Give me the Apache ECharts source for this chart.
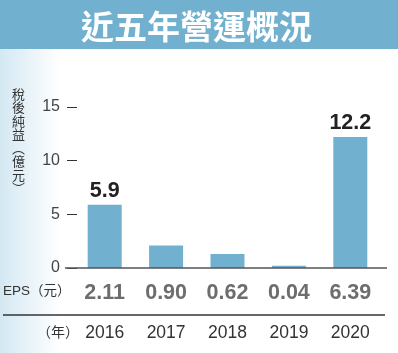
<!DOCTYPE html>
<html>
<head>
<meta charset="utf-8">
<script src="https://cdn.jsdelivr.net/npm/echarts@6/dist/echarts.min.js"></script>
<style>
  html, body { margin: 0; padding: 0; background: #fff; }
  #chart { width: 398px; height: 353px; }
</style>
</head>
<body>
<div id="chart"></div>
<script>
const years = ['2016', '2017', '2018', '2019', '2020']
const profit = [5.9, 2.1, 1.3, 0.2, 12.2]
const eps = ['2.11', '0.90', '0.62', '0.04', '6.39']
const labeledBars = [true, false, false, false, true]
const yTicks = [0, 5, 10, 15]

const FONT = '"Liberation Sans", Arial, "Noto Sans CJK TC", sans-serif'
const CJK = '"Noto Sans CJK TC", "Noto Sans CJK SC", sans-serif'
const BLUE = '#72b0cf'

const chart = echarts.init(document.getElementById('chart'))

const option = {
  animation: false,
  backgroundColor: '#fff',
  title: {
    text: '近五年營運概況',
    left: 76,
    top: 5,
    textStyle: { color: '#fff', fontSize: 33, fontWeight: 'bold', fontFamily: CJK }
  },
  graphic: [
    {
      type: 'rect', z: -10, left: 0, top: 49,
      shape: { width: 60, height: 304 },
      style: {
        fill: new echarts.graphic.LinearGradient(0, 0, 1, 0, [
          { offset: 0, color: '#d4e8f2' },
          { offset: 1, color: '#ffffff' }
        ])
      }
    },
    {
      type: 'rect', z: -5, left: 0, top: 0,
      shape: { width: 398, height: 49 },
      style: { fill: BLUE }
    },
    {
      type: 'line', z: 10,
      shape: { x1: 65, y1: 268, x2: 387, y2: 268 },
      style: { stroke: '#555', lineWidth: 1.5 }
    },
    {
      type: 'line', z: 10,
      shape: { x1: 3, y1: 315, x2: 385, y2: 315 },
      style: { stroke: '#333', lineWidth: 1.5 }
    },
    {
      type: 'text', left: 12, top: 87,
      style: {
        text: '稅\n後\n純\n益\n︵\n億\n元\n︶',
        font: '13px ' + CJK, lineHeight: 13.5, fill: '#333'
      }
    },
    {
      type: 'text', left: 3, top: 285,
      style: { text: 'EPS（元）', font: '13.5px ' + FONT, fill: '#333' }
    },
    {
      type: 'text', left: 37, top: 325,
      style: { text: '（年）', font: '14px ' + CJK, fill: '#333' }
    }
  ],
  grid: { left: 74, right: 17, top: 107, bottom: 85 },
  xAxis: {
    type: 'category',
    data: years,
    axisLine: { show: false },
    axisTick: { show: false },
    axisLabel: {
      interval: 0,
      margin: 5,
      formatter: (v, i) => `{eps|${eps[i]}}\n{yr|${v}}`,
      rich: {
        eps: { fontSize: 21.5, fontWeight: 'bold', color: '#6d6d6d', fontFamily: FONT, lineHeight: 40 },
        yr: { fontSize: 17.5, color: '#333', fontFamily: FONT, lineHeight: 40 }
      }
    }
  },
  yAxis: {
    type: 'value',
    min: 0,
    max: 15,
    interval: 5,
    offset: -3,
    axisLine: { show: false },
    axisTick: { show: true, length: 10, lineStyle: { color: '#333' } },
    splitLine: { show: false },
    axisLabel: {
      margin: 17,
      color: '#444',
      fontSize: 16,
      fontFamily: FONT,
      formatter: v => (yTicks.includes(v) ? String(v) : '')
    }
  },
  series: [{
    type: 'bar',
    barWidth: 34,
    itemStyle: { color: BLUE },
    label: {
      position: 'top',
      distance: 3,
      color: '#222',
      fontSize: 21.5,
      fontWeight: 'bold',
      fontFamily: FONT
    },
    data: profit.map((v, i) => ({ value: v, label: { show: labeledBars[i] } }))
  }]
}

chart.setOption(option)
window.addEventListener('resize', () => chart.resize())
</script>
</body>
</html>
